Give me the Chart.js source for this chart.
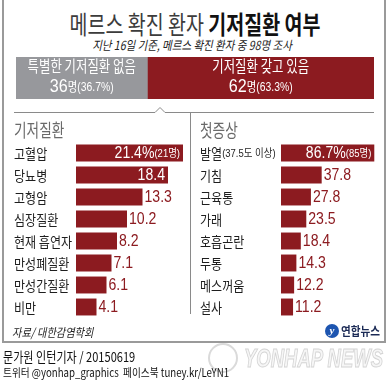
<!DOCTYPE html>
<html>
<head>
<meta charset="utf-8">
<script src="https://cdn.jsdelivr.net/npm/chart.js@4.4.0/dist/chart.umd.min.js"></script>
<style>
  body { margin: 0; background: #fff; }
  #wrap { position: relative; width: 390px; height: 384px; overflow: hidden; font-family: "Noto Sans CJK KR", sans-serif; }
  .abs { position: absolute; }
  #frame { left: 2px; top: 0; width: 380px; height: 341px; border: 2px solid #9a9a9a; border-top: none; }
  #title { top: 8px; left: 0; width: 390px; text-align: center; font-size: 25px; line-height: 30px; color: #3c3c3c; transform: scaleX(0.78); white-space: nowrap; }
  #title b { color: #111; font-weight: 700; }
  #subtitle { top: 37px; left: 0; width: 384px; text-align: center; font-size: 12.5px; line-height: 16px; font-style: italic; color: #222; transform: scaleX(0.84); white-space: nowrap; }
  .panelTitle { top: 118px; font-size: 18px; line-height: 22px; color: #6a6a6a; transform: scaleX(0.76); transform-origin: left center; white-space: nowrap; }
  #source { left: 12px; top: 324px; font-size: 12px; line-height: 16px; font-style: italic; color: #222; transform: scaleX(0.85); transform-origin: left center; white-space: nowrap; }
  #logo { left: 325px; top: 323px; width: 60px; height: 16px; }
  #logo .dot { position: absolute; left: 0; top: 1px; width: 14px; height: 14px; border-radius: 50%; background: #1d55b0; color: #fff; font: italic 700 11px "Liberation Serif", serif; text-align: center; line-height: 13px; }
  #logo .txt { position: absolute; left: 16px; top: 0; font-size: 12.5px; line-height: 16px; font-weight: 700; color: #1b2a55; transform: scaleX(0.85); transform-origin: left center; white-space: nowrap; }
  #byline { left: 3px; top: 347px; font-size: 13.5px; line-height: 18px; color: #111; transform: scaleX(0.82); transform-origin: left center; white-space: nowrap; }
  #social { left: 3px; top: 365px; font-size: 11.5px; line-height: 15px; color: #111; transform: scaleX(0.84); transform-origin: left center; white-space: nowrap; }
  #wmark { left: 244px; top: 343px; font: italic 700 25px "Liberation Sans", sans-serif; line-height: 30px; color: #f6f6f6; -webkit-text-stroke: 1px #d4d4d4; transform: scaleX(0.74); transform-origin: left center; white-space: nowrap; }
  #wring { left: 208px; top: 343px; width: 26px; height: 26px; border: 2px solid #dadada; border-radius: 50%; }
</style>
</head>
<body>
<div id="wrap">
  <div id="frame" class="abs"></div>
  <div id="title" class="abs">메르스 확진 환자 <b>기저질환 여부</b></div>
  <div id="subtitle" class="abs">지난 16일 기준, 메르스 확진 환자 중 98명 조사</div>

  <canvas id="splitChart" class="abs" width="358" height="42" style="left:16px;top:57px"></canvas>

  <svg class="abs" style="left:0;top:0" width="390" height="384">
    <polyline points="14,112.5 155,112.5 160,107.5 165,112.5 374,112.5" fill="none" stroke="#8a8a8a" stroke-width="1"/>
    <line x1="190.5" y1="112" x2="190.5" y2="314" stroke="#8a8a8a" stroke-width="1"/>
  </svg>

  <div class="panelTitle abs" style="left:14px">기저질환</div>
  <div class="panelTitle abs" style="left:200px">첫증상</div>

  <canvas id="diseaseChart" class="abs" width="176" height="176" style="left:14px;top:142px"></canvas>
  <canvas id="symptomChart" class="abs" width="180" height="176" style="left:200px;top:142px"></canvas>

  <div id="source" class="abs">자료/ 대한감염학회</div>
  <div id="logo" class="abs"><div class="dot">y</div><div class="txt">연합뉴스</div></div>

  <div id="wring" class="abs"></div>
  <div id="wmark" class="abs">YONHAP NEWS</div>
  <div id="byline" class="abs">문가원 인턴기자 / 20150619</div>
  <div id="social" class="abs">트위터 @yonhap_graphics&nbsp; 페이스북 tuney.kr/LeYN1</div>
</div>

<script>
// --- Data ---
const diseaseLabels = ['고혈압', '당뇨병', '고형암', '심장질환', '현재 흡연자', '만성폐질환', '만성간질환', '비만'];
const diseaseValues = [21.4, 18.4, 13.3, 10.2, 8.2, 7.1, 6.1, 4.1];
const diseaseTopCount = 21;

const symptomLabels = ['발열(37.5도 이상)', '기침', '근육통', '가래', '호흡곤란', '두통', '메스꺼움', '설사'];
const symptomValues = [86.7, 37.8, 27.8, 23.5, 18.4, 14.3, 12.2, 11.2];
const symptomTopCount = 85;

const splitLabels = ['특별한 기저질환 없음', '기저질환 갖고 있음'];
const splitCounts = [36, 62];
const splitShares = [36.7, 63.3];

// --- Styles ---
const RED = '#8c1b20';
const GRAY = '#97989c';
const KFONT = '"Noto Sans CJK KR", sans-serif';
const NFONT = '"Liberation Sans", "Noto Sans CJK KR", sans-serif';

// draws a run of text pieces (each with its own font / squeeze) on one line
function drawPieces(ctx, pieces, x, y, align, color) {
    ctx.save();
    ctx.fillStyle = color;
    ctx.textBaseline = 'middle';
    ctx.textAlign = 'left';
    let total = 0;
    pieces.forEach(p => {
        ctx.font = p.font;
        p.w = ctx.measureText(p.text).width * p.sx;
        total += p.w;
    });
    let left = x;
    if (align === 'right') left = x - total;
    else if (align === 'center') left = x - total / 2;
    pieces.forEach(p => {
        ctx.save();
        ctx.font = p.font;
        ctx.translate(left, y);
        ctx.scale(p.sx, 1);
        ctx.fillText(p.text, 0, 0);
        ctx.restore();
        left += p.w;
    });
    ctx.restore();
}

// category names on the left + value labels next to / inside the bars
const rowLabelPlugin = {
    id: 'rowLabels',
    afterDatasetsDraw(chart, args, opts) {
        const ctx = chart.ctx;
        const labels = chart.data.labels;
        const values = chart.data.datasets[0].data;
        chart.getDatasetMeta(0).data.forEach((bar, i) => {
            const name = labels[i];
            const cut = name.indexOf('(');
            const nameParts = cut > 0
                ? [{ text: name.slice(0, cut), font: '14px ' + KFONT, sx: 0.86 },
                   { text: name.slice(cut), font: '11px ' + NFONT, sx: 0.86 }]
                : [{ text: name, font: '14px ' + KFONT, sx: 0.86 }];
            drawPieces(ctx, nameParts, 0, bar.y + 0.5, 'left', '#1e1e1e');

            const valParts = [{ text: values[i] + (i === 0 ? '%' : ''), font: '16px ' + NFONT, sx: 0.88 }];
            if (i === 0) valParts.push({ text: '(' + opts.topCount + '명)', font: '11px ' + NFONT, sx: 0.86 });
            if (i < opts.insideCount) {
                drawPieces(ctx, valParts, bar.x - 3, bar.y + 0.5, 'right', '#fff');
            } else {
                drawPieces(ctx, valParts, bar.x + 2, bar.y + 0.5, 'left', RED);
            }
        });
    }
};

function makeBarChart(id, labels, values, max, padLeft, insideCount, topCount) {
    new Chart(document.getElementById(id), {
        type: 'bar',
        data: {
            labels: labels,
            datasets: [{
                data: values,
                backgroundColor: RED,
                barPercentage: 0.77,
                categoryPercentage: 1
            }]
        },
        options: {
            indexAxis: 'y',
            responsive: false,
            animation: false,
            layout: { padding: { left: padLeft, right: 0, top: 0, bottom: 0 } },
            scales: {
                x: { display: false, min: 0, max: max },
                y: { display: false }
            },
            plugins: {
                legend: { display: false },
                tooltip: { enabled: false },
                rowLabels: { insideCount: insideCount, topCount: topCount }
            }
        },
        plugins: [rowLabelPlugin]
    });
}

makeBarChart('diseaseChart', diseaseLabels, diseaseValues, 22.8, 62, 2, diseaseTopCount);
makeBarChart('symptomChart', symptomLabels, symptomValues, 92, 81, 1, symptomTopCount);

// --- Top split bar (36 vs 62) ---
const splitTextPlugin = {
    id: 'splitText',
    afterDatasetsDraw(chart) {
        const ctx = chart.ctx;
        chart.data.datasets.forEach((ds, i) => {
            const bar = chart.getDatasetMeta(i).data[0];
            const cx = (bar.base + bar.x) / 2;
            drawPieces(ctx, [{ text: splitLabels[i], font: '15.5px ' + KFONT, sx: 0.8 }], cx, 9, 'center', '#fff');
            drawPieces(ctx, [
                { text: String(splitCounts[i]), font: '19px ' + NFONT, sx: 0.85 },
                { text: '명(' + splitShares[i] + '%)', font: '13px ' + NFONT, sx: 0.8 }
            ], cx, 30, 'center', '#fff');
        });
    }
};

new Chart(document.getElementById('splitChart'), {
    type: 'bar',
    data: {
        labels: [''],
        datasets: [
            { data: [splitShares[0]], backgroundColor: GRAY, barPercentage: 1, categoryPercentage: 1 },
            { data: [splitShares[1]], backgroundColor: RED, barPercentage: 1, categoryPercentage: 1 }
        ]
    },
    options: {
        indexAxis: 'y',
        responsive: false,
        animation: false,
        layout: { padding: 0 },
        scales: {
            x: { display: false, stacked: true, min: 0, max: 100 },
            y: { display: false, stacked: true }
        },
        plugins: { legend: { display: false }, tooltip: { enabled: false } }
    },
    plugins: [splitTextPlugin]
});
</script>
</body>
</html>
